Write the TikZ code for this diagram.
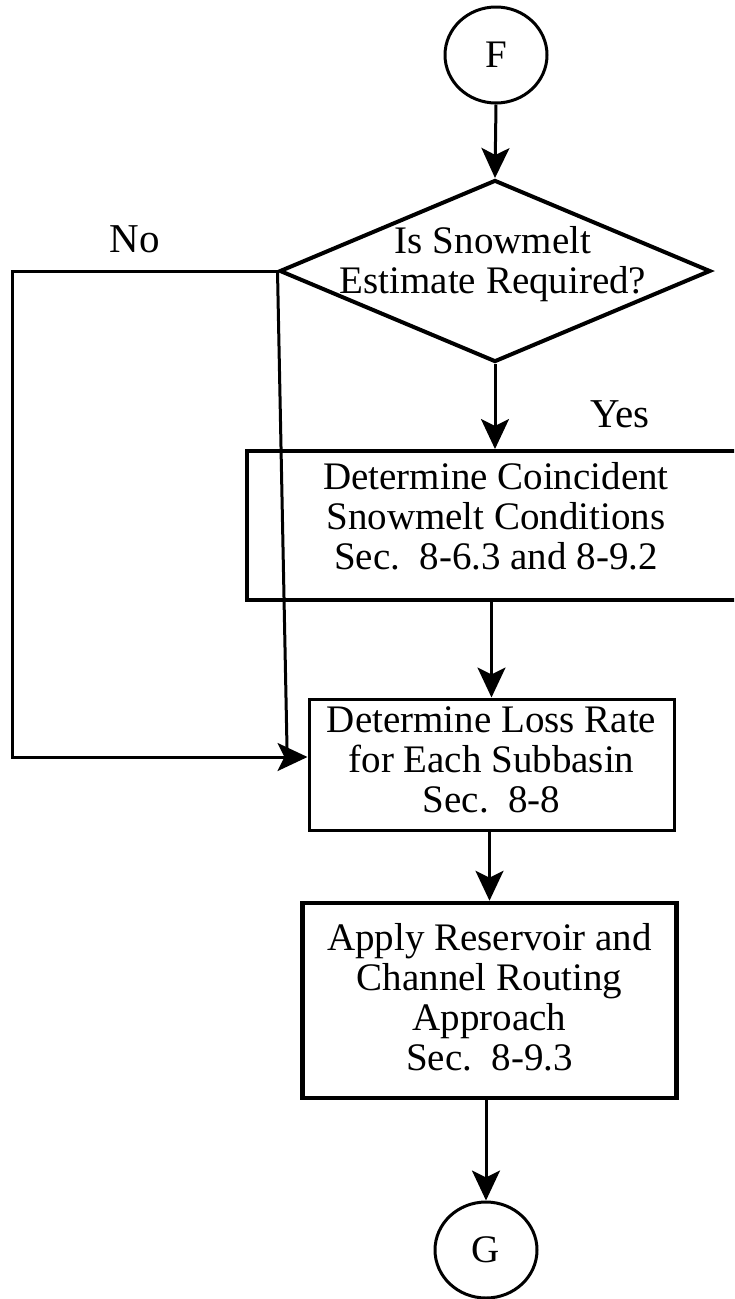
\documentclass[tikz,border=0pt]{standalone}
\usepackage{fontspec}
\setmainfont{Liberation Serif}
\usetikzlibrary{arrows.meta,shapes.geometric,calc}
\begin{document}
\begin{tikzpicture}[x=1pt,y=-1pt,
  txt/.style={font=\fontsize{39}{40}\selectfont, align=center, inner sep=0pt},
  lbl/.style={font=\fontsize{41}{44}\selectfont, inner sep=0pt, anchor=base},
  term/.style={ellipse, draw, line width=3pt, minimum width=102pt, minimum height=96pt, inner sep=0pt, font=\fontsize{39}{40}\selectfont},
  dia/.style={diamond, draw, line width=4pt, minimum width=431pt, minimum height=182pt, inner sep=0pt},
  proc/.style={rectangle, draw, txt},
  conn/.style={line width=3pt},
  arr/.style={conn, -{Stealth[length=30pt,width=28pt,inset=7pt]}}]
\clip (0,0) rectangle (734,1299);
\fill[white] (0,0) rectangle (734,1299);

\node[term] (F) at (496,55) {F};
\node[dia] (dec) at (495,271) {};
\node[txt] (dectext) at (493,264) {Is Snowmelt\\Estimate Required?};
\node[proc, line width=4pt, minimum width=498pt, minimum height=149pt] (b1) at (496,525.5)
  {Determine Coincident\\Snowmelt Conditions\\Sec.\ \ 8-6.3 and 8-9.2\rule[-19.6pt]{0pt}{19.6pt}};
\node[proc, line width=3pt, minimum width=365pt, minimum height=131pt] (b2) at (491.5,764.5)
  {Determine Loss Rate\\for Each Subbasin\\Sec.\ \ 8-8\rule[-9.6pt]{0pt}{9.6pt}};
\node[proc, line width=4.5pt, minimum width=374pt, minimum height=195pt] (b3) at (489.5,1000.5)
  {Apply Reservoir and\\Channel Routing\\Approach\\Sec.\ \ 8-9.3\rule[-7.6pt]{0pt}{7.6pt}};
\node[term] (G) at (486,1250) {G};

\node[lbl] (yes) at (620,427) {Yes};
\node[lbl] (no) at (135,252) {No};

\coordinate (lp) at (12,757);
\coordinate (sl) at (287,748);

\draw[arr] (F.south) -- (dec.north);
\draw[arr] (dec.south) -- (dec.south |- b1.north);
\draw[arr] (b2.north |- b1.south) -- (b2.north);
\draw[arr] (b3.north |- b2.south) -- (b3.north);
\draw[arr] (G.north |- b3.south) -- (G.north);
\draw[arr] (dec.west) -| (lp) -- (lp -| b2.west);
\draw[conn] (dec.west) -- (sl);
\end{tikzpicture}
\end{document}
